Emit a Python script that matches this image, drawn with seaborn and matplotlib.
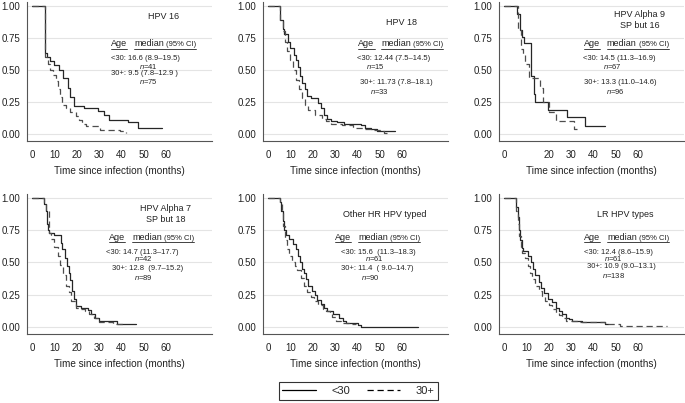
import numpy as np
import pandas as pd
import matplotlib
matplotlib.use("Agg")
import matplotlib.pyplot as plt
import seaborn as sns
from matplotlib.lines import Line2D

# ---- Kaplan-Meier step data (time in months, proportion) ----
hpv16_t_lt30 = [0, 5.8, 6.6, 8.2, 10.0, 12.0, 14.0, 16.0, 17.0, 18.8, 23.2, 29.5, 32.3, 34.2, 42.9, 47.4, 58.0]
hpv16_s_lt30 = [1.0, 0.63, 0.60, 0.57, 0.54, 0.50, 0.44, 0.36, 0.29, 0.22, 0.20, 0.18, 0.15, 0.11, 0.09, 0.05, 0.05]
hpv16_t_30p = [0, 5.8, 7.0, 8.0, 9.5, 10.5, 11.5, 12.5, 13.5, 15.0, 17.0, 19.5, 21.0, 22.5, 24.0, 30.5, 39.5, 42.0]
hpv16_s_30p = [1.0, 0.60, 0.55, 0.50, 0.46, 0.41, 0.35, 0.29, 0.23, 0.20, 0.17, 0.14, 0.11, 0.08, 0.065, 0.035, 0.02, 0.01]

hpv18_t_lt30 = [0, 5.5, 6.6, 7.2, 8.9, 10.0, 11.5, 12.5, 13.5, 14.2, 15.0, 16.5, 17.5, 19.0, 22.5, 23.5, 25.0, 26.5, 28.0, 31.0, 34.0, 41.5, 43.5, 46.0, 48.5, 57.0]
hpv18_s_lt30 = [1.0, 0.89, 0.82, 0.78, 0.72, 0.67, 0.62, 0.58, 0.52, 0.45, 0.40, 0.35, 0.30, 0.28, 0.24, 0.20, 0.15, 0.12, 0.10, 0.09, 0.08, 0.07, 0.05, 0.04, 0.02, 0.02]
hpv18_t_30p = [0, 5.5, 6.5, 7.5, 8.5, 10.0, 11.0, 12.5, 14.0, 15.0, 16.5, 18.0, 21.0, 24.0, 26.0, 28.0, 33.0, 38.0, 43.0, 47.0, 50.0, 52.0, 53.0]
hpv18_s_30p = [1.0, 0.88, 0.80, 0.72, 0.65, 0.58, 0.50, 0.42, 0.35, 0.28, 0.23, 0.19, 0.15, 0.12, 0.10, 0.08, 0.07, 0.05, 0.04, 0.03, 0.02, 0.01, 0.01]

a9_t_lt30 = [0, 5.8, 7.2, 8.0, 9.0, 12.2, 13.4, 14.0, 19.8, 28.0, 36.3, 45.2]
a9_s_lt30 = [1.0, 0.94, 0.81, 0.76, 0.71, 0.45, 0.31, 0.25, 0.19, 0.13, 0.06, 0.06]
a9_t_30p = [0, 6.1, 7.5, 8.5, 9.5, 11.0, 16.0, 17.2, 20.0, 23.0, 31.3, 32.5]
a9_s_30p = [1.0, 0.81, 0.66, 0.62, 0.55, 0.44, 0.36, 0.25, 0.17, 0.10, 0.04, 0.04]

a7_t_lt30 = [0, 5.3, 6.0, 6.7, 7.2, 7.5, 10.0, 13.0, 13.5, 14.5, 15.5, 16.3, 17.0, 17.8, 18.6, 19.5, 22.0, 25.0, 26.5, 28.0, 30.0, 38.0, 46.5]
a7_s_lt30 = [1.0, 0.95, 0.90, 0.80, 0.75, 0.73, 0.71, 0.65, 0.60, 0.53, 0.47, 0.42, 0.36, 0.28, 0.22, 0.16, 0.145, 0.13, 0.10, 0.07, 0.05, 0.025, 0.025]
a7_t_30p = [0, 5.5, 6.3, 7.4, 8.5, 10.0, 11.5, 12.5, 13.7, 15.0, 16.5, 17.5, 19.5, 21.0, 23.5, 25.5, 27.5, 30.0, 36.0, 42.0]
a7_s_30p = [1.0, 0.95, 0.90, 0.73, 0.68, 0.62, 0.55, 0.48, 0.40, 0.32, 0.27, 0.20, 0.15, 0.14, 0.12, 0.10, 0.07, 0.04, 0.02, 0.02]

ohr_t_lt30 = [0, 5.1, 5.8, 6.5, 7.2, 8.0, 9.5, 11.0, 12.3, 13.3, 14.3, 15.2, 16.0, 17.0, 18.0, 19.5, 21.0, 22.0, 23.5, 25.0, 26.5, 29.0, 31.5, 33.5, 35.0, 40.0, 41.5, 67.0]
ohr_s_lt30 = [1.0, 0.97, 0.90, 0.82, 0.75, 0.71, 0.68, 0.64, 0.60, 0.55, 0.50, 0.45, 0.42, 0.37, 0.32, 0.28, 0.25, 0.21, 0.18, 0.15, 0.12, 0.10, 0.07, 0.05, 0.03, 0.015, 0.0, 0.0]
ohr_t_30p = [0, 5.1, 6.0, 6.8, 7.5, 8.5, 9.5, 10.5, 12.0, 13.0, 14.5, 16.0, 17.5, 19.0, 20.5, 22.5, 24.5, 26.0, 27.5, 28.5, 30.5, 32.5, 36.0, 39.5]
ohr_s_30p = [1.0, 0.95, 0.88, 0.78, 0.67, 0.60, 0.55, 0.50, 0.47, 0.44, 0.38, 0.32, 0.27, 0.23, 0.20, 0.17, 0.14, 0.12, 0.10, 0.08, 0.05, 0.03, 0.02, 0.02]

lr_t_lt30 = [0, 5.5, 6.0, 6.5, 7.0, 7.8, 8.5, 10.8, 12.0, 13.0, 14.0, 15.5, 16.7, 18.0, 19.5, 21.5, 23.0, 24.5, 26.0, 27.5, 29.0, 30.5, 35.0, 45.0, 46.5]
lr_s_lt30 = [1.0, 0.93, 0.85, 0.75, 0.67, 0.61, 0.59, 0.55, 0.50, 0.45, 0.40, 0.35, 0.30, 0.26, 0.22, 0.19, 0.15, 0.12, 0.10, 0.07, 0.06, 0.05, 0.04, 0.02, 0.02]
lr_t_30p = [0, 5.5, 6.2, 6.8, 7.5, 8.2, 9.2, 10.5, 11.5, 12.5, 14.0, 15.5, 16.8, 18.5, 20.0, 21.5, 23.0, 24.5, 26.0, 27.5, 30.0, 34.0, 45.0, 52.0, 73.0]
lr_s_30p = [1.0, 0.90, 0.80, 0.70, 0.62, 0.57, 0.53, 0.47, 0.42, 0.37, 0.32, 0.28, 0.24, 0.20, 0.17, 0.14, 0.11, 0.09, 0.07, 0.05, 0.045, 0.035, 0.02, 0.005, 0.005]

# ---- panel texts ----
titles = [["HPV 16"], ["HPV 18"], ["HPV Alpha 9", "SP but 16"],
          ["HPV Alpha 7", "SP but 18"], ["Other HR HPV typed"], ["LR HPV types"]]
stats_lt30 = ["<30: 16.6 (8.9\u201319.5)", "<30: 12.44 (7.5\u201314.5)", "<30: 14.5 (11.3\u201316.9)",
              "<30: 14.7 (11.3\u201317.7)", "<30: 15.6  (11.3\u201318.3)", "<30: 12.4 (8.6\u201315.9)"]
stats_30p = ["30+: 9.5 (7.8\u201312.9 )", "30+: 11.73 (7.8\u201318.1)", "30+: 13.3 (11.0\u201314.6)",
             "30+: 12.8  (9.7\u201315.2)", "30+: 11.4  ( 9.0\u201314.7)", "30+: 10.9 (9.0\u201313.1)"]
n_lt30 = [41, 15, 67, 42, 61, 61]
n_30p = [75, 33, 96, 89, 90, 138]

# text anchor positions (data coords): title centre x, title y, header/stat left x, rows y
title_xy = [(58.7, 0.92), (59.5, 0.87), (60.5, 0.93), (59.8, 0.92), (52.3, 0.87), (54.2, 0.87)]
head_x = [35.4, 40.4, 35.6, 34.4, 30.0, 35.9]
head_y = [0.71, 0.71, 0.71, 0.70, 0.70, 0.70]
lt30_xy = [(35.4, 0.59), (39.7, 0.59), (35.3, 0.59), (32.9, 0.58), (32.8, 0.58), (35.9, 0.58)]
nlt_xy = [(52.0, 0.53), (48.0, 0.53), (48.5, 0.53), (50.0, 0.53), (47.4, 0.53), (48.9, 0.53)]
p30_xy = [(35.4, 0.47), (41.0, 0.40), (35.6, 0.40), (35.6, 0.45), (32.8, 0.45), (36.9, 0.47)]
np_xy = [(52.0, 0.41), (49.7, 0.33), (50.0, 0.33), (50.0, 0.38), (45.8, 0.38), (48.9, 0.40)]

curves = [
    (hpv16_t_lt30, hpv16_s_lt30, hpv16_t_30p, hpv16_s_30p),
    (hpv18_t_lt30, hpv18_s_lt30, hpv18_t_30p, hpv18_s_30p),
    (a9_t_lt30, a9_s_lt30, a9_t_30p, a9_s_30p),
    (a7_t_lt30, a7_s_lt30, a7_t_30p, a7_s_30p),
    (ohr_t_lt30, ohr_s_lt30, ohr_t_30p, ohr_s_30p),
    (lr_t_lt30, lr_s_lt30, lr_t_30p, lr_s_30p),
]

sns.set_theme(style="white")
plt.rcParams["font.family"] = ["Liberation Sans", "DejaVu Sans"]
plt.rcParams["mathtext.fontset"] = "custom"
plt.rcParams["mathtext.it"] = "Liberation Sans:italic"
plt.rcParams["mathtext.rm"] = "Liberation Sans"

W, H = 685, 403
fig = plt.figure(figsize=(W / 100, H / 100), dpi=100)

lefts = [27, 263, 499]
rows = [(0.650, 0.345), (0.171, 0.348)]
axis_col = "#555555"
underlines = []

for i, (tl, sl, tp, sp) in enumerate(curves):
    r, c = divmod(i, 3)
    ax = fig.add_axes([lefts[c] / W, rows[r][0], 185 / W, rows[r][1]])
    df = pd.DataFrame({
        "t": tl + tp,
        "s": sl + sp,
        "age": ["<30"] * len(tl) + ["30+"] * len(tp),
    })
    sns.lineplot(data=df, x="t", y="s", hue="age", style="age",
                 palette={"<30": "#262626", "30+": "#4d4d4d"},
                 dashes={"<30": "", "30+": (5, 3)},
                 drawstyle="steps-post", estimator=None, sort=False,
                 legend=False, linewidth=0.9, ax=ax)

    ax.set_xlim(-2.3, 80.5)
    ax.set_ylim(-0.055, 1.03)
    ax.set_yticks([0, 0.25, 0.5, 0.75, 1.0])
    ax.set_yticklabels(["0.00", "0.25", "0.50", "0.75", "1.00"])
    ax.set_xticks(range(0, 61, 10))
    if i == 2:
        ax.set_xticklabels(["0", "", "20", "30", "40", "50", "60"])
    ax.yaxis.grid(True, color="#e4e4e4", linewidth=0.8)
    ax.xaxis.grid(False)
    ax.set_axisbelow(True)
    sns.despine(ax=ax)
    for sp_name in ["left", "bottom"]:
        ax.spines[sp_name].set_color(axis_col)
        ax.spines[sp_name].set_linewidth(0.8)
    ax.tick_params(direction="out", length=3, width=0.7, color=axis_col,
                   labelsize=7.0, pad=2, labelcolor="#222222")
    ax.tick_params(axis="x", pad=3.5)
    ax.set_xlabel("Time since infection (months)", fontsize=7.2, labelpad=4, color="#222222")
    ax.set_ylabel("")

    # title lines
    tx, ty = title_xy[i]
    for k, line in enumerate(titles[i]):
        ax.text(tx, ty - k * 0.085, line, fontsize=6.5, ha="center", va="center", color="#222222")

    # underlined header
    hx, hy = head_x[i], head_y[i] - 0.025
    t_age = ax.text(hx, hy, "Age", fontsize=6.5, va="baseline", color="#222222")
    t_med = ax.annotate("median", xy=(hx, hy), xytext=(16.5, 0), textcoords="offset points",
                        fontsize=6.5, va="baseline", color="#222222")
    t_ci = ax.annotate("(95% CI)", xy=(hx, hy), xytext=(39.5, 0), textcoords="offset points",
                       fontsize=5.5, va="baseline", color="#222222")
    underlines.append((t_age, t_age))
    underlines.append((t_med, t_ci))

    ax.text(*lt30_xy[i], stats_lt30[i], fontsize=5.5, ha="left", va="center", color="#222222")
    ax.text(*nlt_xy[i], f"$n$={n_lt30[i]}", fontsize=5.5, ha="center", va="center", color="#222222")
    ax.text(*p30_xy[i], stats_30p[i], fontsize=5.5, ha="left", va="center", color="#222222")
    ax.text(*np_xy[i], f"$n$={n_30p[i]}", fontsize=5.5, ha="center", va="center", color="#222222")

# legend box at the bottom
handles = [Line2D([], [], color="black", linewidth=0.9),
           Line2D([], [], color="black", linewidth=0.9, linestyle=(0, (5, 3)))]
leg = fig.legend(handles, ["<30", "30+"], loc="center",
                 bbox_to_anchor=(358.5 / W, 1 - 391 / H), ncol=2, fontsize=8,
                 frameon=True, fancybox=False, edgecolor="black",
                 handlelength=3.0, handletextpad=1.4, columnspacing=1.5,
                 borderpad=0.35)
leg.get_frame().set_linewidth(0.8)

# underline header words
fig.canvas.draw()
renderer = fig.canvas.get_renderer()
inv = fig.transFigure.inverted()
for a, b in underlines:
    b1 = a.get_window_extent(renderer)
    b2 = b.get_window_extent(renderer)
    y = min(b1.y0, b2.y0) - 0.3
    (x0, yy), (x1, _) = inv.transform([(b1.x0, y), (b2.x1, y)])
    fig.add_artist(Line2D([x0, x1], [yy, yy], transform=fig.transFigure,
                          color="#222222", linewidth=0.6))

fig.savefig("out.png", dpi=100)
